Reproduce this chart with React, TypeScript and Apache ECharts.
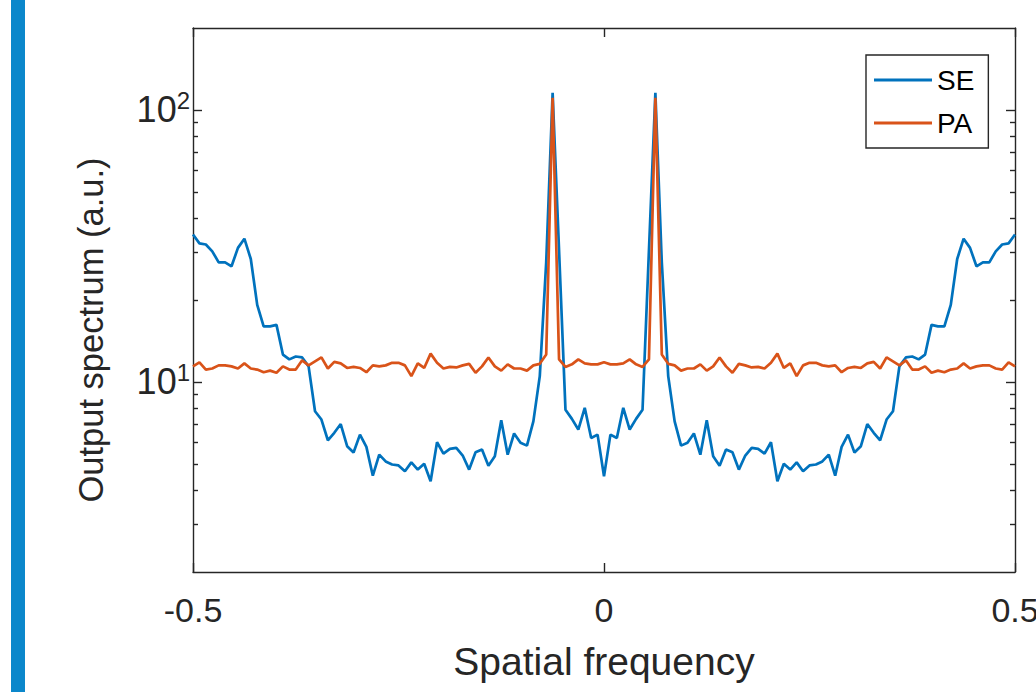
import React, { useEffect, useRef } from "react";
import * as echarts from "echarts";

// Spatial frequency grid: 129 samples from -0.5 to 0.5 (step 1/128)
const freq: number[] = Array.from({ length: 129 }, (_, k) => -0.5 + k / 128);

// SE output spectrum (a.u.)
const seValues: number[] = [
  34.8, 32.3, 32.0, 30.2, 27.5, 27.5, 26.6, 31.1, 33.6, 28.3,
  19.2, 16.0, 16.0, 16.2, 12.6, 12.1, 12.4, 12.3, 11.4, 7.8,
  7.27, 6.1, 6.5, 7.0, 5.8, 5.5, 6.4, 5.77, 4.52, 5.4,
  5.1, 4.97, 4.93, 4.69, 5.06, 4.76, 5.0, 4.31, 6.0, 5.45,
  5.67, 5.72, 5.36, 4.76, 5.51, 5.64, 4.92, 5.33, 7.23, 5.4,
  6.46, 5.97, 5.83, 7.16, 10.5, 27.5, 115.5, 30.5, 7.9, 7.31,
  6.68, 8.03, 6.22, 6.4, 4.5,
  6.4, 6.22, 8.03, 6.68, 7.31, 7.9, 30.5, 115.5, 27.5, 10.5,
  7.16, 5.83, 5.97, 6.46, 5.4, 7.23, 5.33, 4.92, 5.64, 5.51,
  4.76, 5.36, 5.72, 5.67, 5.45, 6.0, 4.31, 5.0, 4.76, 5.06,
  4.69, 4.93, 4.97, 5.1, 5.4, 4.52, 5.77, 6.4, 5.5, 5.8,
  7.0, 6.5, 6.1, 7.27, 7.8, 11.4, 12.3, 12.4, 12.1, 12.6,
  16.2, 16.0, 16.0, 19.2, 28.3, 33.6, 31.1, 26.6, 27.5, 27.5,
  30.2, 32.0, 32.3, 34.8,
];

// PA output spectrum (a.u.)
const paValues: number[] = [
  11.4, 11.8, 11.1, 11.2, 11.5, 11.5, 11.4, 11.2, 11.7, 11.2,
  11.1, 10.85, 11.0, 10.8, 11.4, 11.1, 11.1, 12.0, 11.5, 11.9,
  12.3, 11.2, 11.85, 11.7, 11.25, 11.35, 11.25, 10.85, 11.5, 11.4,
  11.5, 11.75, 11.75, 11.5, 10.5, 11.7, 11.25, 12.7, 11.75, 11.2,
  11.35, 11.3, 11.5, 11.65, 10.8, 11.4, 12.3, 11.4, 11.0, 11.6,
  11.2, 11.2, 11.0, 11.5, 11.65, 12.6, 110.7, 12.1, 11.35, 11.6,
  12.1, 11.7, 11.6, 11.6, 11.8,
  11.6, 11.6, 11.7, 12.1, 11.6, 11.35, 12.1, 110.7, 12.6, 11.65,
  11.5, 11.0, 11.2, 11.2, 11.6, 11.0, 11.4, 12.3, 11.4, 10.8,
  11.65, 11.5, 11.3, 11.35, 11.2, 11.75, 12.7, 11.25, 11.7, 10.5,
  11.5, 11.75, 11.75, 11.5, 11.4, 11.5, 10.85, 11.25, 11.35, 11.25,
  11.7, 11.85, 11.2, 12.3, 11.9, 11.5, 12.0, 11.1, 11.1, 11.4,
  10.8, 11.0, 10.85, 11.1, 11.2, 11.7, 11.2, 11.4, 11.5, 11.5,
  11.2, 11.1, 11.8, 11.4,
];

const seriesNames = ["SE", "PA"];
const xTicks = [-0.5, 0, 0.5];
const yMajorTicks = [10, 100];
const yMinorTicks = [3, 4, 5, 6, 7, 8, 9, 20, 30, 40, 50, 60, 70, 80, 90];

const AX = "#262626";
const FONT = "'Liberation Sans', Arial, Helvetica, sans-serif";

export default function App() {
  const ref = useRef<HTMLDivElement>(null);
  useEffect(() => {
    if (!ref.current) return;
    const chart = echarts.init(ref.current, undefined, { renderer: "svg" });
    const axisLine = { show: true, onZero: false, lineStyle: { color: AX, width: 1.4 } };
    const noLine = { show: false, onZero: false };
    const yBase = {
      type: "log" as const,
      logBase: 10,
      min: 2,
      max: 200,
      splitLine: { show: false },
      minorTick: { show: false },
    };
    const tick = (len: number) => ({
      show: true,
      inside: true,
      length: len,
      lineStyle: { color: AX, width: 1.4 },
    });
    chart.setOption({
      animation: false,
      textStyle: { fontFamily: FONT },
      grid: {
        left: 193,
        right: 21,
        top: 28,
        bottom: 120,
        containLabel: false,
        outerBoundsMode: "none",
      },
      graphic: [
        {
          type: "rect",
          left: 11,
          top: 0,
          shape: { width: 14, height: 692 },
          style: { fill: "#0b87cb" },
          silent: true,
        },
      ],
      legend: {
        orient: "vertical",
        left: 866,
        top: 55,
        data: seriesNames,
        icon: "rect",
        itemWidth: 58,
        itemHeight: 3,
        itemGap: 13,
        padding: [10, 14, 10, 8],
        borderColor: AX,
        borderWidth: 1.4,
        backgroundColor: "#ffffff",
        textStyle: { fontSize: 28, lineHeight: 30, color: "#000", fontFamily: FONT },
      },
      xAxis: [
        {
          type: "value",
          min: -0.5,
          max: 0.5,
          interval: 0.5,
          position: "bottom",
          axisLine,
          axisTick: { ...tick(9), customValues: xTicks },
          axisLabel: {
            customValues: xTicks,
            fontSize: 34,
            color: AX,
            margin: 21,
            fontFamily: FONT,
            formatter: (v: number) => String(v),
          },
          splitLine: { show: false },
          name: "Spatial frequency",
          nameLocation: "middle",
          nameGap: 70,
          nameTextStyle: { fontSize: 39, color: AX, fontFamily: FONT },
        },
        {
          type: "value",
          min: -0.5,
          max: 0.5,
          interval: 0.5,
          position: "top",
          axisLine,
          axisTick: { ...tick(9), customValues: xTicks },
          axisLabel: { show: false },
          splitLine: { show: false },
        },
      ],
      yAxis: [
        {
          ...yBase,
          position: "left",
          axisLine,
          axisTick: { ...tick(9), customValues: yMajorTicks },
          axisLabel: {
            customValues: yMajorTicks,
            margin: 3,
            color: AX,
            fontFamily: FONT,
            formatter: (v: number) => `{b|10}{s|${Math.round(Math.log10(v))}}`,
            rich: {
              b: { fontSize: 36, lineHeight: 42, color: AX, fontFamily: FONT },
              s: { fontSize: 24, lineHeight: 20, verticalAlign: "top", color: AX, fontFamily: FONT },
            },
          },
          name: "Output spectrum (a.u.)",
          nameLocation: "middle",
          nameRotate: 90,
          nameGap: 85,
          nameTextStyle: {
            fontSize: 34.5,
            color: AX,
            fontFamily: FONT,
            padding: [0, 60, 0, 0],
          },
        },
        {
          ...yBase,
          position: "left",
          axisLine: noLine,
          axisTick: { ...tick(5), customValues: yMinorTicks },
          axisLabel: { show: false },
        },
        {
          ...yBase,
          position: "right",
          axisLine,
          axisTick: { ...tick(9), customValues: yMajorTicks },
          axisLabel: { show: false },
        },
        {
          ...yBase,
          position: "right",
          axisLine: noLine,
          axisTick: { ...tick(5), customValues: yMinorTicks },
          axisLabel: { show: false },
        },
      ],
      series: [
        {
          name: seriesNames[0],
          type: "line",
          xAxisIndex: 0,
          yAxisIndex: 0,
          data: freq.map((x, i) => [x, seValues[i]]),
          symbol: "none",
          lineStyle: { color: "#0072BD", width: 2.7 },
          itemStyle: { color: "#0072BD" },
          z: 2,
        },
        {
          name: seriesNames[1],
          type: "line",
          xAxisIndex: 0,
          yAxisIndex: 0,
          data: freq.map((x, i) => [x, paValues[i]]),
          symbol: "none",
          lineStyle: { color: "#D95319", width: 2.7 },
          itemStyle: { color: "#D95319" },
          z: 3,
        },
      ],
    });
    return () => chart.dispose();
  }, []);
  return (
    <div
      ref={ref}
      style={{ position: "fixed", left: 0, top: 0, width: 1036, height: 692, background: "#fff" }}
    />
  );
}
